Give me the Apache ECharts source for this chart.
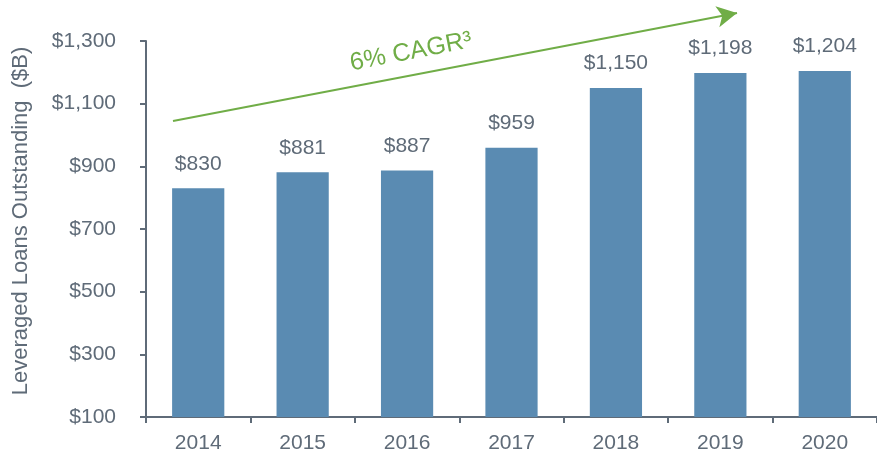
<!DOCTYPE html>
<html>
<head>
<meta charset="utf-8">
<script src="https://cdn.jsdelivr.net/npm/echarts@6/dist/echarts.min.js"></script>
<style>
  html, body { margin: 0; padding: 0; background: #fff; }
  #main { width: 877px; height: 456px; }
</style>
</head>
<body>
<div id="main"></div>
<script>
var years = ['2014', '2015', '2016', '2017', '2018', '2019', '2020'];
var loans = [830, 881, 887, 959, 1150, 1198, 1204];
var yTicks = [100, 300, 500, 700, 900, 1100, 1300];

var gray = '#5f6b78';
var green = '#70ad47';

function money(v) {
  return '$' + String(v).replace(/\B(?=(\d{3})+(?!\d))/g, ',');
}

var chart = echarts.init(document.getElementById('main'));
chart.setOption({
  animation: false,
  textStyle: { fontFamily: 'Liberation Sans, Arial, sans-serif' },
  grid: { left: 146, right: -7, top: 41, bottom: 39 },
  xAxis: {
    type: 'category',
    data: years,
    axisLine: { lineStyle: { color: gray, width: 2 } },
    axisTick: { show: true, length: 6, lineStyle: { color: gray, width: 2 } },
    axisLabel: { color: gray, fontSize: 21, margin: 16 }
  },
  yAxis: {
    type: 'value',
    min: yTicks[0],
    max: yTicks[yTicks.length - 1],
    interval: 200,
    name: 'Leveraged Loans Outstanding  ($B)',
    nameLocation: 'middle',
    nameGap: 114,
    nameTextStyle: { color: gray, fontSize: 22, padding: [0, 0, 0, 16] },
    axisLine: { show: true, lineStyle: { color: gray, width: 2 } },
    axisTick: { show: true, length: 6, lineStyle: { color: gray, width: 2 } },
    splitLine: { show: false },
    axisLabel: { color: gray, fontSize: 21, margin: 30, formatter: money }
  },
  series: [{
    type: 'bar',
    data: loans,
    barWidth: '50%',
    itemStyle: { color: '#5a8bb2' },
    label: {
      show: true,
      position: 'top',
      distance: 14,
      color: gray,
      fontSize: 21,
      formatter: function (p) { return money(p.value); }
    },
    markLine: {
      silent: true,
      symbol: ['none', 'arrow'],
      symbolSize: [16, 20],
      label: { show: false },
      lineStyle: { color: green, width: 2, type: 'solid' },
      data: [[{ x: 173, y: 121 }, { x: 737, y: 13 }]]
    }
  }],
  graphic: [{
    type: 'text',
    x: 411,
    y: 52,
    rotation: 0.189,
    style: {
      text: '6% CAGR³',
      fill: green,
      fontSize: 25,
      fontFamily: 'Liberation Sans, Arial, sans-serif',
      align: 'center',
      verticalAlign: 'middle'
    }
  }]
});
</script>
</body>
</html>
